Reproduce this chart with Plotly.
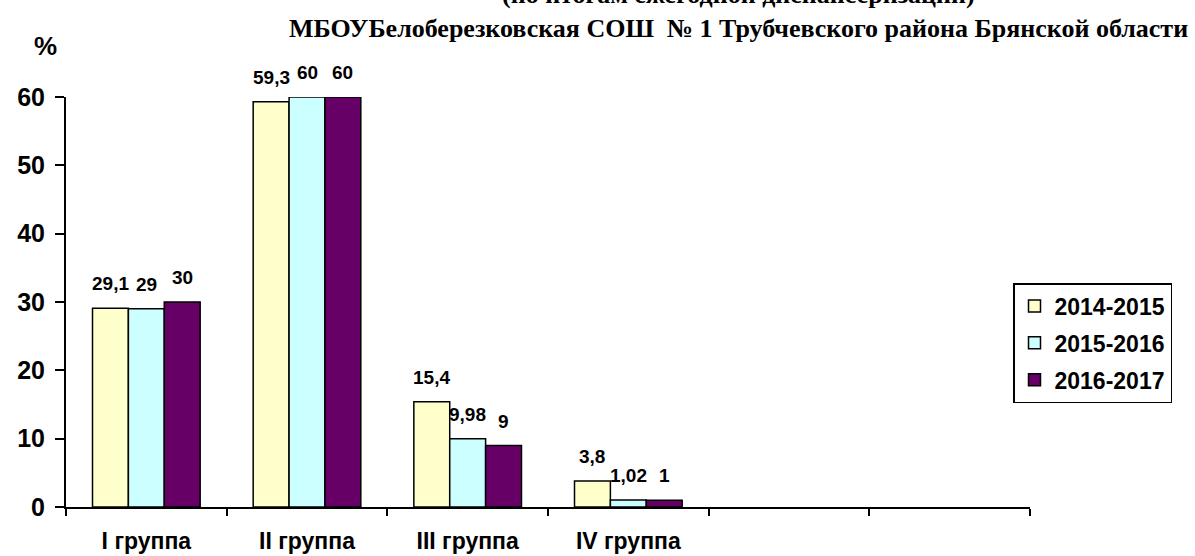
import plotly.graph_objects as go

categories = ["I группа", "II группа", "III группа", "IV группа", " ", "  "]
series_names = ["2014-2015", "2015-2016", "2016-2017"]
values_2014 = [29.1, 59.3, 15.4, 3.8, None, None]
values_2015 = [29, 60, 9.98, 1.02, None, None]
values_2016 = [30, 60, 9, 1, None, None]
colors = ["#FFFFCC", "#CCFFFF", "#660066"]
y_ticks = [0, 10, 20, 30, 40, 50, 60]

title_line1 = "(по итогам ежегодной диспансеризации)"
title_line2 = "МБОУБелоберезковская СОШ  № 1 Трубчевского района Брянской области"

W, H = 1195, 556
ML, MR, MT, MB = 66, 165, 97, 49
BARGAP = 0.33


def fmt(v):
    return ("%g" % v).replace(".", ",")


fig = go.Figure()
all_series = [values_2014, values_2015, values_2016]
for name, vals, col in zip(series_names, all_series, colors):
    fig.add_trace(go.Bar(
        x=categories, y=vals, name=name,
        marker=dict(color=col, line=dict(color="black", width=1.5)),
        legendgroup=name,
    ))

# data labels placed above each bar through the axes
pw = W - ML - MR
ph = H - MT - MB
cat_w = pw / len(categories)
bar_w = cat_w * (1 - BARGAP) / len(all_series)
annotations = []
for si, vals in enumerate(all_series):
    offset = (si - (len(all_series) - 1) / 2) * bar_w
    for cat, v in zip(categories, vals):
        if v is None:
            continue
        annotations.append(dict(
            x=cat, y=v, xref="x", yref="y", text=fmt(v), showarrow=False,
            xanchor="center", yanchor="bottom", xshift=offset, yshift=12,
            font=dict(family="Arial", size=19, color="black", weight="bold"),
        ))


def paper(px, py):
    return (px - ML) / pw, (H - py - MB) / ph


for txt, (px, py), fnt in [
    (title_line1, (738, -6), dict(family="Liberation Serif", size=26, weight="bold", color="black")),
    (title_line2, (738, 28), dict(family="Liberation Serif", size=26, weight="bold", color="black")),
    ("%", (45, 46), dict(family="Arial", size=26, weight="bold", color="black")),
]:
    x, y = paper(px, py)
    annotations.append(dict(text=txt, x=x, y=y, xref="paper", yref="paper", showarrow=False,
                            xanchor="center", yanchor="middle", font=fnt))

lx, ly = paper(1013, 283)

fig.update_layout(
    width=W, height=H,
    margin=dict(l=ML, r=MR, t=MT, b=MB, autoexpand=False),
    paper_bgcolor="white", plot_bgcolor="white",
    barmode="group", bargap=BARGAP, bargroupgap=0,
    font=dict(family="Arial", color="black"),
    showlegend=True,
    legend=dict(
        x=lx, y=ly, xanchor="left", yanchor="top",
        bordercolor="black", borderwidth=1.5, bgcolor="white",
        font=dict(family="Arial", size=23, color="black", weight="bold"),
        tracegroupgap=4, itemwidth=30,
    ),
    xaxis=dict(
        type="category", categoryorder="array", categoryarray=categories,
        showline=True, linecolor="black", linewidth=2,
        ticks="outside", tickson="boundaries", ticklen=7, tickwidth=2, tickcolor="black",
        tickfont=dict(family="Arial", size=23, color="black", weight="bold"),
        ticklabelstandoff=12, automargin=False,
        showgrid=False, zeroline=False, fixedrange=True,
    ),
    yaxis=dict(
        range=[0, 60], tickvals=y_ticks,
        showline=True, linecolor="black", linewidth=2,
        ticks="outside", ticklen=9, tickwidth=2, tickcolor="black",
        tickfont=dict(family="Arial", size=25, color="black", weight="bold"),
        ticklabelstandoff=5, automargin=False,
        showgrid=False, zeroline=False, fixedrange=True,
    ),
    annotations=annotations,
)

fig.write_html("out.html", config={"displayModeBar": False},
               post_script="document.body.style.margin='0';")
